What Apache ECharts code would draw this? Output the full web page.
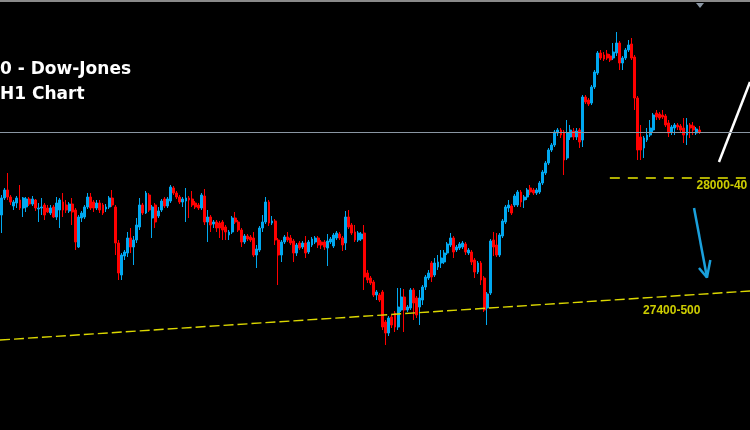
<!DOCTYPE html>
<html><head><meta charset="utf-8">
<script src="https://cdn.jsdelivr.net/npm/echarts@6/dist/echarts.min.js"></script>
<style>html,body{margin:0;padding:0;background:#000;}#c{width:750px;height:430px;}</style>
</head><body><div id="c"></div>
<script>
const opens = [
27860,27928,27960,27932,27896,27908,27920,27888,27892,27924,
27904,27920,27884,27888,27900,27888,27868,27892,27852,27880,
27912,27900,27876,27904,27880,27732,27848,27852,27892,27932,
27912,27888,27908,27900,27884,27892,27928,27892,27748,27620,
27696,27708,27768,27732,27760,27812,27900,27868,27940,27848,
27900,27856,27880,27924,27896,27916,27968,27948,27932,27912,
27916,27928,27924,27908,27900,27888,27936,27832,27852,27824,
27832,27828,27832,27812,27780,27792,27848,27832,27800,27752,
27776,27772,27768,27700,27720,27808,27832,27912,27828,27836,
27760,27700,27752,27772,27768,27756,27708,27748,27732,27748,
27712,27740,27752,27768,27752,27752,27728,27752,27736,27768,
27784,27768,27748,27852,27820,27792,27760,27764,27788,27628,
27608,27592,27540,27540,27552,27432,27388,27452,27468,27412,
27480,27532,27480,27488,27560,27528,27492,27520,27572,27608,
27668,27620,27652,27668,27672,27708,27740,27768,27720,27728,
27732,27744,27708,27712,27680,27632,27668,27608,27488,27548,
27760,27740,27700,27776,27832,27888,27896,27900,27900,27952,
27920,27932,27968,27960,27948,27952,27988,28028,28068,28120,
28140,28188,28200,28192,28088,28172,28196,28172,28200,28160,
28332,28320,28308,28372,28428,28508,28500,28504,28496,28488,
28508,28548,28468,28488,28520,28544,28492,28328,28172,28128,
28160,28180,28200,28268,28264,28260,28256,28228,28192,28208,
28220,28216,28208,28180,28220,28216,28188,28200];
const closes = [
27928,27960,27932,27912,27912,27928,27888,27928,27924,27904,
27924,27888,27888,27892,27860,27872,27888,27852,27908,27920,
27880,27880,27904,27872,27752,27852,27868,27892,27932,27888,
27888,27908,27880,27868,27892,27928,27900,27748,27628,27700,
27712,27768,27732,27760,27820,27900,27868,27948,27880,27892,
27832,27876,27916,27896,27924,27972,27948,27932,27912,27924,
27928,27920,27900,27892,27888,27940,27832,27852,27820,27832,
27808,27808,27800,27792,27792,27848,27832,27800,27752,27776,
27764,27760,27700,27724,27808,27832,27912,27828,27836,27760,
27700,27752,27772,27760,27748,27708,27740,27728,27748,27708,
27752,27764,27768,27740,27740,27732,27756,27764,27780,27788,
27768,27740,27852,27812,27788,27760,27788,27784,27612,27600,
27588,27540,27552,27520,27412,27388,27448,27420,27412,27492,
27532,27480,27492,27560,27508,27460,27528,27572,27612,27628,
27612,27668,27672,27688,27708,27744,27768,27712,27732,27744,
27748,27712,27720,27672,27632,27668,27600,27480,27544,27756,
27732,27700,27780,27836,27892,27900,27868,27936,27952,27912,
27932,27960,27952,27948,27960,27988,28032,28068,28120,28140,
28192,28200,28180,28080,28188,28200,28172,28196,28152,28332,
28312,28304,28372,28432,28508,28488,28484,28488,28480,28512,
28548,28468,28488,28520,28540,28488,28328,28120,28120,28168,
28180,28208,28260,28252,28248,28252,28220,28188,28212,28220,
28212,28200,28180,28220,28208,28200,28204,28192];
const lows = [
27788,27920,27920,27900,27880,27888,27880,27852,27872,27896,
27896,27876,27832,27860,27840,27868,27860,27848,27840,27808,
27852,27868,27868,27820,27720,27728,27832,27844,27884,27880,
27872,27880,27868,27860,27872,27884,27892,27700,27600,27600,
27680,27692,27708,27660,27748,27800,27860,27864,27872,27768,
27808,27848,27872,27888,27888,27908,27940,27924,27904,27892,
27832,27848,27892,27884,27880,27880,27820,27752,27792,27808,
27792,27768,27760,27760,27760,27784,27824,27792,27732,27744,
27756,27752,27692,27648,27712,27792,27824,27816,27820,27740,
27580,27672,27744,27752,27740,27672,27696,27720,27724,27688,
27704,27732,27744,27728,27724,27720,27656,27744,27728,27760,
27760,27716,27720,27804,27780,27752,27752,27756,27560,27588,
27580,27532,27520,27512,27400,27340,27376,27408,27392,27400,
27472,27392,27472,27480,27440,27448,27420,27500,27560,27600,
27592,27612,27640,27648,27664,27700,27732,27688,27712,27720,
27724,27700,27700,27660,27608,27624,27580,27472,27420,27540,
27696,27692,27692,27768,27824,27872,27860,27892,27892,27892,
27888,27920,27940,27940,27940,27944,27980,28020,28060,28112,
28132,28176,28168,28020,28080,28160,28160,28160,28128,28132,
28304,28296,28300,28364,28420,28480,28476,28480,28472,28480,
28496,28440,28440,28480,28512,28480,28280,28080,28080,28088,
28152,28172,28192,28240,28240,28244,28212,28172,28180,28180,
28200,28192,28148,28140,28168,28180,28180,28184];
const highs = [
27940,27968,28028,27940,27920,27936,27980,27932,27932,27932,
27936,27924,27908,27928,27908,27900,27900,27900,27932,27928,
27948,27920,27912,27928,27888,27860,27876,27900,27948,27948,
27920,27920,27920,27908,27904,27936,27960,27900,27760,27708,
27720,27792,27808,27776,27848,27928,27908,27956,27948,27900,
27908,27892,27924,27932,27932,27980,27976,27956,27940,27932,
27968,27936,27956,27916,27908,27948,27964,27880,27860,27840,
27840,27836,27840,27820,27800,27856,27872,27840,27808,27784,
27784,27780,27792,27740,27816,27860,27932,27920,27856,27844,
27768,27760,27780,27792,27780,27764,27748,27756,27756,27776,
27760,27772,27776,27776,27760,27760,27784,27772,27788,27796,
27792,27776,27876,27880,27828,27820,27796,27792,27820,27640,
27616,27600,27560,27548,27560,27440,27456,27460,27476,27568,
27568,27564,27500,27568,27568,27536,27560,27580,27620,27640,
27676,27688,27700,27720,27720,27752,27788,27776,27740,27752,
27756,27752,27728,27720,27688,27676,27676,27616,27552,27764,
27792,27788,27788,27844,27900,27920,27904,27944,27960,27960,
27940,27968,27980,27968,27968,27996,28040,28076,28128,28148,
28200,28208,28208,28200,28240,28220,28208,28208,28208,28340,
28340,28328,28380,28440,28516,28520,28512,28520,28504,28548,
28592,28556,28496,28528,28560,28568,28500,28336,28220,28176,
28208,28240,28268,28280,28272,28280,28264,28240,28220,28228,
28228,28224,28248,28248,28228,28232,28212,28216];

const slotCount = 244;               // bars + empty space on the right
const categories = [];
for (let i = 0; i < slotCount; i++) categories.push('H' + (i + 1));

// annotation levels (price) and positions (bar index)
const currentPrice = 28192;
const supportX = [-0.5, 243.5];
const supportY = [27360, 27556];
const resistX = [197.9, 243.5];
const resistY = [28008, 28008];
const whiteX = [233.4, 243.5];
const whiteY = [28072, 28392];
const arrowShaftX = [225.3, 229.5];
const arrowShaftY = [27888, 27610];
const arrowArmX = [226.9, 229.5, 230.6];
const arrowArmY = [27648, 27610, 27680];
const labelTexts = ['28000-40', '27400-500'];
const labelX = [226.1, 208.7];
const labelY = [27978, 27476];

const candleData = opens.map((o, i) => [o, closes[i], lows[i], highs[i]]);
const pts = (xs, ys) => xs.map((x, i) => [x, ys[i]]);

const chart = echarts.init(document.getElementById('c'), null, {renderer: 'canvas'});
chart.setOption({
  backgroundColor: '#000',
  animation: false,
  title: {
    text: '0 - Dow-Jones\nH1 Chart',
    left: 0, top: 57, padding: 0,
    textStyle: {color: '#fff', fontFamily: 'DejaVu Sans', fontWeight: 'bold', fontSize: 17, lineHeight: 25}
  },
  grid: {left: 0, right: 0, top: 0, bottom: 0},
  xAxis: [
    {type: 'category', data: categories, boundaryGap: true, show: false},
    {type: 'value', min: -0.5, max: 243.5, show: false}
  ],
  yAxis: {type: 'value', min: 27000, max: 28720, show: false, scale: true},
  series: [
    {
      type: 'candlestick', data: candleData, xAxisIndex: 0, barWidth: 2.4,
      itemStyle: {color: '#00a8f0', color0: '#ff0000', borderColor: '#00a8f0', borderColor0: '#ff0000', borderWidth: 1},
      markLine: {
        silent: true, symbol: 'none', label: {show: false},
        lineStyle: {color: '#8a96a3', width: 1, type: 'solid'},
        data: [{yAxis: currentPrice}]
      }
    },
    {type: 'line', xAxisIndex: 1, data: pts(supportX, supportY), symbol: 'none', silent: true,
     lineStyle: {color: '#dcd800', width: 1.4, type: [10, 4]}},
    {type: 'line', xAxisIndex: 1, data: pts(resistX, resistY), symbol: 'none', silent: true,
     lineStyle: {color: '#e8e800', width: 1.3, type: [10, 8]}},
    {type: 'line', xAxisIndex: 1, data: pts(whiteX, whiteY), symbol: 'none', silent: true,
     lineStyle: {color: '#ffffff', width: 2.5}},
    {type: 'line', xAxisIndex: 1, data: pts(arrowShaftX, arrowShaftY), symbol: 'none', silent: true,
     lineStyle: {color: '#1aa0dc', width: 2.5}},
    {type: 'line', xAxisIndex: 1, data: pts(arrowArmX, arrowArmY), symbol: 'none', silent: true,
     lineStyle: {color: '#1aa0dc', width: 2.5}},
    {type: 'scatter', xAxisIndex: 1, symbolSize: 0, silent: true,
     data: labelTexts.map((t, i) => ({value: [labelX[i], labelY[i]], name: t})),
     label: {show: true, position: 'right', distance: 0, formatter: p => p.name,
             color: '#ffff00', fontFamily: 'Liberation Sans', fontWeight: 'bold', fontSize: 12}}
  ],
  graphic: [
    {type: 'line', shape: {x1: 0, y1: 1, x2: 750, y2: 1}, style: {stroke: '#8a8a8a', lineWidth: 2}, silent: true},
    {type: 'polygon', shape: {points: [[696, 3], [704, 3], [700, 8]]}, style: {fill: '#8a96a3'}, silent: true}
  ]
});
</script></body></html>
